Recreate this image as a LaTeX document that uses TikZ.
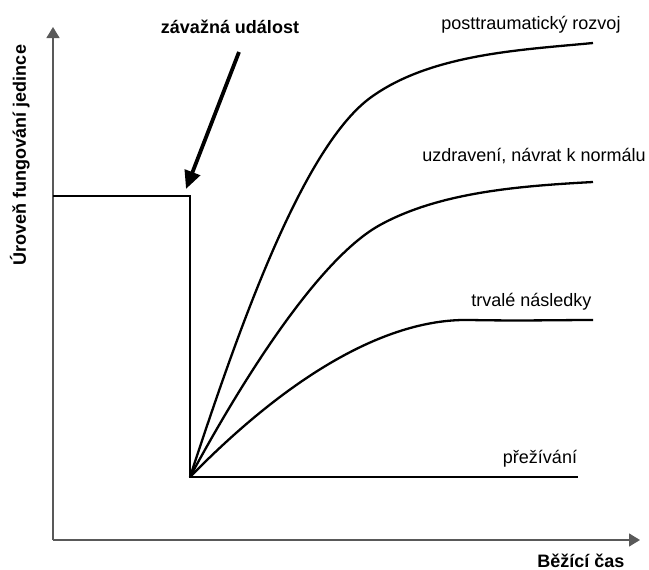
\documentclass[tikz,border=0pt]{standalone}
\usepackage{fontspec}
\setmainfont{Liberation Sans}
\usetikzlibrary{arrows.meta}
\begin{document}
\begin{tikzpicture}[x=1pt,y=-1pt,
  axis/.style={draw=black!65, line width=1.4pt},
  curve/.style={draw=black, line width=2.3pt, line join=miter},
  lbl/.style={font=\fontsize{18}{21}\selectfont, inner sep=0pt, anchor=base},
  blbl/.style={lbl, font=\fontsize{18}{21}\selectfont\bfseries},
]
\useasboundingbox (0,0) rectangle (649,570);

% axes
\coordinate (origin) at (53,540);
\coordinate (ytip) at (53,27);
\coordinate (xtip) at (640,540);
\draw[axis, -{Triangle[length=11pt,width=13pt]}] (origin) -- (ytip);
\draw[axis, -{Triangle[length=11pt,width=13pt]}] (origin) -- (xtip);

\node[blbl, rotate=90] (ylabel) at (26,155) {Úroveň fungování jedince};
\node[blbl] (xlabel) at (581,567) {Běžící čas};

% functioning level before and after the event
\coordinate (lvl) at (53,196);
\coordinate (drop) at (190,196);
\coordinate (dip) at (190,477);
\coordinate (survend) at (578,477);
\draw[curve] (lvl) -- (drop) -- (dip) -- (survend);

% the event
\node[blbl] (event) at (230,33) {závažná událost};
\coordinate (evstart) at (239,52);
\coordinate (evtip) at (186,189);
\draw[line width=3.8pt, -{Triangle[length=18pt,width=16pt]}] (evstart) -- (evtip);

% recovery trajectories
\coordinate (topend) at (593,43);
\coordinate (midend) at (593,182);
\coordinate (lowend) at (593,320);
\draw[curve] (dip) .. controls (235,340) and (300,150) .. (370,98)
  .. controls (430,54) and (520,50) .. (topend);
\draw[curve] (dip) .. controls (245,375) and (320,258) .. (380,225)
  .. controls (440,192) and (520,186) .. (midend);
\draw[curve] (dip) .. controls (280,385) and (380,318) .. (470,320)
  .. controls (520,321) and (560,320) .. (lowend);

% outcome labels
\node[lbl] (ptg) at (531,29) {posttraumatický rozvoj};
\node[lbl] (recov) at (534,161) {uzdravení, návrat k normálu};
\node[lbl] (lasting) at (531.5,306) {trvalé následky};
\node[lbl] (surv) at (540,463) {přežívání};
\end{tikzpicture}
\end{document}
